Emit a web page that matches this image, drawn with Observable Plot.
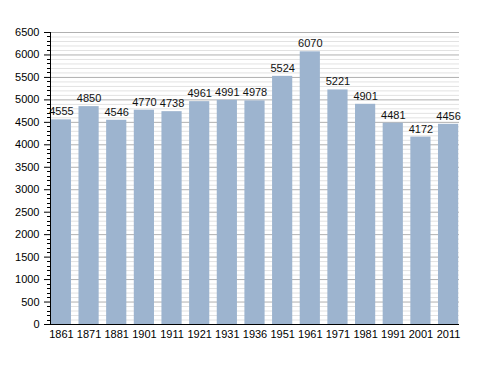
<!DOCTYPE html>
<html><head><meta charset="utf-8">
<script src="https://cdn.jsdelivr.net/npm/d3@7"></script>
<script src="https://cdn.jsdelivr.net/npm/@observablehq/plot@0.6"></script>
<style>body{margin:0;background:#fff;font-family:"Liberation Sans",Arial,sans-serif}</style>
</head><body><div id="chart"></div>
<script>
const years = ["1861","1871","1881","1901","1911","1921","1931","1936","1951","1961","1971","1981","1991","2001","2011"];
const population = [4555,4850,4546,4770,4738,4961,4991,4978,5524,6070,5221,4901,4481,4172,4456];
const yTicks = d3.range(0, 6501, 500);
const yMinor = d3.range(0, 6501, 100).filter(v => v % 500 !== 0);
const data = years.map((y, i) => ({year: y, pop: population[i]}));

const chart = Plot.plot({
  width: 488, height: 373,
  marginTop: 32, marginBottom: 49, marginLeft: 50, marginRight: 29,
  style: {fontFamily: "Liberation Sans, Arial, sans-serif", fontSize: "11px", color: "#000", background: "#fff"},
  x: {domain: years, paddingInner: 0.27, paddingOuter: 0.03, round: false, label: null, tickSize: 0, tickPadding: 6},
  y: {domain: [0, 6500], label: null, ticks: yTicks, tickFormat: d => String(d), tickSize: 6, tickPadding: 5},
  marks: [
    Plot.ruleY(yMinor, {stroke: "#e2e2e2", strokeWidth: 1}),
    Plot.ruleY(yTicks, {stroke: "#b0b0b0", strokeWidth: 1}),
    Plot.barY(data, {x: "year", y: "pop", fill: "#9db4cf"}),
    Plot.text(data, {x: "year", y: "pop", text: d => String(d.pop), dy: -8, fontSize: 11, fill: "#111"}),
    Plot.tickY(yMinor, {x: null, stroke: "#000", strokeWidth: 1, render: (index, scales, values, dims) => {
      const g = d3.create("svg:g");
      for (const v of yMinor) {
        const y = Math.round(scales.y(v)) + 0.5;
        g.append("line").attr("x1", dims.marginLeft - 3).attr("x2", dims.marginLeft).attr("y1", y).attr("y2", y).attr("stroke", "#000");
      }
      return g.node();
    }}),
    Plot.ruleX([years[0]], {x: null, stroke: "#000", render: (index, scales, values, dims) => {
      const g = d3.create("svg:g");
      g.append("line").attr("x1", dims.marginLeft + 0.5).attr("x2", dims.marginLeft + 0.5)
        .attr("y1", dims.marginTop).attr("y2", dims.height - dims.marginBottom).attr("stroke", "#000");
      g.append("line").attr("x1", dims.marginLeft).attr("x2", dims.width - dims.marginRight)
        .attr("y1", dims.height - dims.marginBottom + 0.5).attr("y2", dims.height - dims.marginBottom + 0.5).attr("stroke", "#000");
      return g.node();
    }})
  ]
});
document.getElementById("chart").append(chart);
</script>
</body></html>
